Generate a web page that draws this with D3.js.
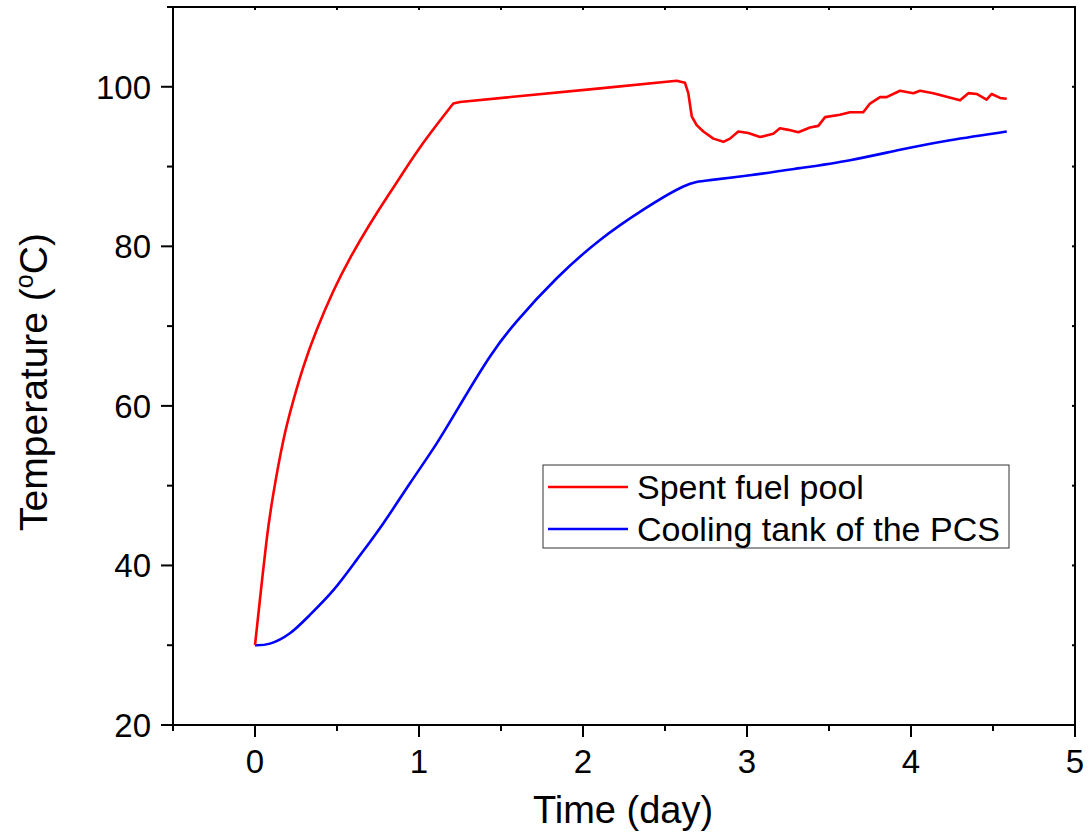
<!DOCTYPE html>
<html>
<head>
<meta charset="utf-8">
<script src="https://cdn.jsdelivr.net/npm/d3@7"></script>
<style>
  body { margin: 0; background: #fff; }
  text { font-family: "Liberation Sans", Arial, sans-serif; fill: #000; }
</style>
</head>
<body>
<div class="chart"></div>
<script>
// data (time in days, temperature in °C)
var poolTime = [0, 0.03, 0.071, 0.112, 0.173, 0.234, 0.295, 0.376, 0.478, 0.579, 0.701, 0.803, 0.864, 1.006, 1.209,
  1.25, 2.104, 2.571, 2.622, 2.642, 2.663, 2.693, 2.734, 2.795, 2.856, 2.896, 2.947, 3.008, 3.079, 3.16, 3.201, 3.252,
  3.313, 3.384, 3.435, 3.476, 3.567, 3.628, 3.709, 3.75, 3.811, 3.851, 3.933, 4.014, 4.055, 4.136, 4.299, 4.35,
  4.4, 4.461, 4.492, 4.543, 4.584]
var poolTemp = [30, 35.7, 43.2, 49.0, 55.7, 60.7, 64.9, 69.5, 74.4, 78.5, 82.8, 86.1, 88.0, 92.4, 97.9,
  98.1, 99.8, 100.75, 100.5, 99.2, 96.3, 95.2, 94.4, 93.5, 93.1, 93.5, 94.4, 94.2, 93.7, 94.1, 94.8, 94.6,
  94.3, 94.9, 95.1, 96.2, 96.5, 96.8, 96.8, 97.9, 98.7, 98.7, 99.5, 99.2, 99.5, 99.2, 98.3, 99.2,
  99.1, 98.4, 99.1, 98.6, 98.5]
var poolKink = 1.209   // end of the smooth heat-up, after this the record is drawn point to point

var tankTime = [0, 0.091, 0.213, 0.335, 0.478, 0.62, 0.783, 0.945, 1.108, 1.27, 1.433, 1.596, 1.84, 2.104,
  2.368, 2.612, 2.774, 3.018, 3.323, 3.628, 3.933, 4.238, 4.584]
var tankTemp = [30, 30.2, 31.5, 33.8, 36.9, 40.7, 45.3, 50.3, 55.3, 60.8, 66.2, 70.6, 76.0, 80.8,
  84.6, 87.5, 88.3, 88.9, 89.8, 90.8, 92.1, 93.3, 94.4]

var seriesNames = ["Spent fuel pool", "Cooling tank of the PCS"]
var seriesColors = ["#ff0000", "#0000ff"]

var xTicks = [0, 1, 2, 3, 4, 5]
var xMinor = [-0.5, 0.5, 1.5, 2.5, 3.5, 4.5]
var yTicks = [20, 40, 60, 80, 100]
var yMinor = [30, 50, 70, 90, 110]

var width = 1089, height = 834
var margin = ({top: 7, right: 14, bottom: 109, left: 173})

var svg = d3.select(".chart")
  .append("svg")
    .attr("width", width)
    .attr("height", height)

var x = d3.scaleLinear().domain([-0.5, 5]).range([margin.left, width - margin.right])
var y = d3.scaleLinear().domain([20, 110]).range([height - margin.bottom, margin.top])

var x0 = x.range()[0], x1 = x.range()[1], y0 = y.range()[0], y1 = y.range()[1]

// lines
var pool = poolTime.map((t, i) => [t, poolTemp[i]])
var tank = tankTime.map((t, i) => [t, tankTemp[i]])

var smooth = d3.line().x(d => x(d[0])).y(d => y(d[1])).curve(d3.curveNatural)
var straight = d3.line().x(d => x(d[0])).y(d => y(d[1]))

svg.append("path").datum(tank)
  .attr("d", smooth)
  .attr("fill", "none")
  .attr("stroke", seriesColors[1])
  .attr("stroke-width", 2.6)
  .attr("stroke-linejoin", "round")

// pool: smooth rise, then the measured part
var poolA = pool.filter(d => d[0] <= poolKink)
var poolB = pool.filter(d => d[0] >= poolKink)
svg.append("path")
  .attr("d", smooth(poolA) + straight(poolB).replace(/^M/, "L"))
  .attr("fill", "none")
  .attr("stroke", seriesColors[0])
  .attr("stroke-width", 2.6)
  .attr("stroke-linejoin", "round")

// axes (bottom/left with outward ticks)
var ax = svg.append("g").attr("stroke", "#000").attr("stroke-width", 2)

ax.selectAll(".xt").data(xTicks).join("line")
  .attr("x1", d => x(d)).attr("x2", d => x(d))
  .attr("y1", y0).attr("y2", y0 + 12)
ax.selectAll(".xm").data(xMinor).join("line")
  .attr("x1", d => x(d)).attr("x2", d => x(d))
  .attr("y1", y0).attr("y2", y0 + 6)
ax.selectAll(".yt").data(yTicks).join("line")
  .attr("x1", x0 - 12).attr("x2", x0)
  .attr("y1", d => y(d)).attr("y2", d => y(d))
ax.selectAll(".ym").data(yMinor).join("line")
  .attr("x1", x0 - 6).attr("x2", x0)
  .attr("y1", d => y(d)).attr("y2", d => y(d))

// small inward ticks on top and right
ax.selectAll(".xtop").data(xTicks.concat(xMinor)).join("line")
  .attr("x1", d => x(d)).attr("x2", d => x(d))
  .attr("y1", y1).attr("y2", y1 + 3)
ax.selectAll(".yright").data(yTicks.concat(yMinor)).join("line")
  .attr("x1", x1 - 3).attr("x2", x1)
  .attr("y1", d => y(d)).attr("y2", d => y(d))

// frame
svg.append("rect")
  .attr("x", x0).attr("y", y1)
  .attr("width", x1 - x0).attr("height", y0 - y1)
  .attr("fill", "none").attr("stroke", "#000").attr("stroke-width", 2)

// tick labels
svg.selectAll(".xl").data(xTicks).join("text")
  .attr("x", d => x(d)).attr("y", y0 + 48)
  .attr("text-anchor", "middle")
  .style("font-size", "33px")
  .text(d => d)

svg.selectAll(".yl").data(yTicks).join("text")
  .attr("x", x0 - 22).attr("y", d => y(d) + 12)
  .attr("text-anchor", "end")
  .style("font-size", "33px")
  .text(d => d)

// axis titles
svg.append("text")
  .attr("x", 623).attr("y", 823)
  .attr("text-anchor", "middle")
  .style("font-size", "38px")
  .text("Time (day)")

var yt = svg.append("text")
  .attr("transform", "translate(47,382) rotate(-90)")
  .attr("text-anchor", "middle")
  .style("font-size", "39px")
yt.append("tspan").text("Temperature (")
yt.append("tspan").attr("dy", -14).style("font-size", "25px").text("o")
yt.append("tspan").attr("dy", 14).text("C)")

// legend
var lg = svg.append("g")
lg.append("rect")
  .attr("x", 543).attr("y", 465).attr("width", 466).attr("height", 83)
  .attr("fill", "#fff").attr("stroke", "#333").attr("stroke-width", 1)

seriesNames.forEach(function(name, i) {
  var ly = 487 + i * 42
  lg.append("line")
    .attr("x1", 548).attr("x2", 628)
    .attr("y1", ly).attr("y2", ly)
    .attr("stroke", seriesColors[i]).attr("stroke-width", 2.6)
  lg.append("text")
    .attr("x", 637).attr("y", ly + 12)
    .style("font-size", "34px")
    .text(name)
})
</script>
</body>
</html>
